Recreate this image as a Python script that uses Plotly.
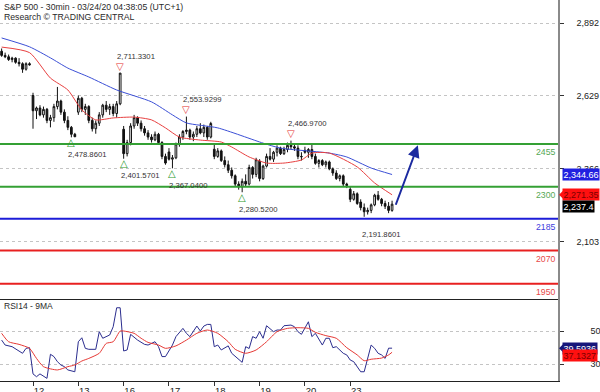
import plotly.graph_objects as go

# ---------------- data ----------------
day_labels = ["12", "13", "16", "17", "18", "19", "20", "23"]
day_start_index = [0, 13, 26, 39, 52, 65, 78, 91]

bar_index = list(range(-9, 104))
opens = [2790, 2775, 2770, 2760, 2765, 2750, 2745, 2725, 2745,
         2630, 2575, 2585, 2560, 2580, 2540, 2550, 2590, 2610, 2570, 2540, 2515, 2490,
         2570, 2620, 2580, 2590, 2540, 2510, 2530, 2560, 2595, 2580, 2590, 2565, 2600,
         2508, 2420, 2460, 2520, 2550, 2530, 2510, 2495, 2480, 2470, 2490, 2460, 2410,
         2426, 2400, 2405, 2455, 2480, 2500, 2505, 2480, 2490, 2510, 2495, 2515, 2480,
         2436, 2410, 2430, 2395, 2380, 2360, 2340, 2310, 2300, 2320, 2310, 2370, 2345,
         2393, 2330, 2375, 2410, 2400, 2425, 2440, 2420, 2435, 2450, 2445, 2440, 2410,
         2432, 2425, 2435, 2410, 2385, 2395, 2380, 2390, 2365, 2350, 2330, 2340, 2310,
         2291, 2255, 2275, 2245, 2225, 2210, 2215, 2235, 2270, 2255, 2240, 2230, 2215]
highs = [2800, 2785, 2778, 2770, 2768, 2765, 2750, 2750, 2750,
         2640, 2590, 2595, 2590, 2585, 2560, 2600, 2661, 2615, 2580, 2555, 2520, 2495,
         2630, 2625, 2600, 2595, 2550, 2540, 2570, 2600, 2610, 2600, 2600, 2610, 2711.33,
         2520, 2470, 2530, 2560, 2555, 2540, 2520, 2505, 2490, 2500, 2495, 2465, 2420,
         2440, 2415, 2460, 2490, 2505, 2553.93, 2510, 2500, 2520, 2530, 2525, 2520, 2535,
         2453, 2440, 2435, 2410, 2395, 2370, 2345, 2320, 2330, 2345, 2380, 2375, 2405,
         2400, 2380, 2420, 2440, 2430, 2450, 2445, 2445, 2460, 2466.97, 2455, 2450, 2425,
         2445, 2440, 2453, 2420, 2400, 2400, 2395, 2395, 2370, 2360, 2345, 2345, 2315,
         2301, 2285, 2280, 2255, 2240, 2225, 2240, 2275, 2285, 2260, 2250, 2245, 2250]
lows = [2770, 2765, 2755, 2750, 2745, 2735, 2712, 2720, 2738,
        2510, 2545, 2555, 2550, 2530, 2515, 2535, 2580, 2560, 2530, 2505, 2478.86, 2480,
        2560, 2570, 2560, 2530, 2500, 2492, 2520, 2550, 2570, 2560, 2555, 2550, 2595,
        2401.57, 2410, 2450, 2510, 2520, 2500, 2485, 2470, 2460, 2465, 2455, 2400, 2380,
        2395, 2367.04, 2400, 2445, 2470, 2490, 2470, 2465, 2480, 2490, 2480, 2470, 2475,
        2400, 2405, 2390, 2370, 2350, 2330, 2300, 2290, 2280.52, 2300, 2305, 2330, 2335,
        2320, 2325, 2370, 2395, 2390, 2410, 2415, 2415, 2425, 2435, 2430, 2400, 2395,
        2420, 2405, 2400, 2380, 2370, 2375, 2370, 2360, 2340, 2325, 2320, 2300, 2295.56,
        2245, 2250, 2235, 2215, 2191.86, 2200, 2205, 2230, 2250, 2230, 2220, 2205, 2210]
closes = [2775, 2770, 2760, 2765, 2750, 2745, 2725, 2745, 2741,
          2575, 2585, 2560, 2580, 2540, 2550, 2590, 2610, 2570, 2540, 2515, 2490, 2481,
          2620, 2580, 2590, 2540, 2510, 2530, 2560, 2595, 2580, 2590, 2565, 2600, 2711,
          2420, 2460, 2520, 2550, 2530, 2510, 2495, 2480, 2470, 2490, 2460, 2410, 2386,
          2400, 2405, 2455, 2480, 2500, 2505, 2480, 2490, 2510, 2495, 2515, 2480, 2529,
          2410, 2430, 2395, 2380, 2360, 2340, 2310, 2300, 2320, 2310, 2370, 2345, 2398,
          2330, 2375, 2410, 2400, 2425, 2440, 2420, 2435, 2450, 2445, 2440, 2410, 2409,
          2425, 2435, 2410, 2385, 2395, 2380, 2390, 2365, 2350, 2330, 2340, 2310, 2305,
          2255, 2275, 2240, 2225, 2210, 2215, 2235, 2270, 2255, 2240, 2230, 2215, 2237.4]

# moving averages on price (read at sample bars)
red_ma_idx = [-9, -1, 5, 10, 14, 18, 23, 29, 34, 38, 42, 48, 54, 57, 62, 67, 72, 77, 80, 85, 93, 98, 103]
red_ma_val = [2805, 2785, 2693, 2650, 2578, 2542, 2549, 2552, 2542, 2513, 2480, 2469, 2462, 2444,
              2408, 2386, 2386, 2397, 2422, 2422, 2372, 2314, 2271.35]
blue_ma_idx = [-9, -1, 5, 10, 16, 24, 34, 40, 44, 53, 66, 71, 85, 90, 97, 103]
blue_ma_val = [2838, 2806, 2766, 2729, 2697, 2650, 2607, 2560, 2531, 2513, 2458, 2440, 2422, 2408,
               2368, 2344.66]

# RSI14 and its 9MA
rsi_idx = [-9, -8, -6, -4, -3, -2, -1, 0, 1, 2, 4, 5, 6, 7, 8, 9, 10, 12, 13, 14, 15, 16, 18, 19,
           20, 22, 23, 24, 25, 26, 27, 28, 30, 32, 33, 35, 36, 37, 38, 40, 41, 43, 44, 45, 47,
           48, 49, 50, 51, 52, 53, 54, 56, 57, 58, 60, 61, 62, 63, 64, 65, 66, 67, 69, 70, 71,
           72, 74, 75, 76, 77, 78, 79, 80, 81, 83, 84, 85, 86, 87, 89, 90, 91, 92, 93, 94, 95,
           96, 97, 98, 99, 100, 101, 102, 103]
rsi_val = [44.5, 41.5, 40.5, 37.5, 36.5, 39.5, 39.9, 24.0, 22.3, 24.0, 21.3, 35.9, 34.5, 31.4,
           29.4, 28.4, 26.4, 25.3, 43.5, 45.9, 39.5, 38.9, 38.9, 49.6, 45.6, 47.6, 52.6, 64.1,
           64.1, 37.9, 38.5, 48.0, 44.5, 41.9, 41.5, 43.5, 40.5, 34.5, 34.5, 41.5, 46.6, 51.6,
           48.6, 46.6, 53.0, 50.0, 53.0, 54.0, 54.0, 40.5, 41.5, 38.5, 41.0, 36.5, 34.5, 31.0,
           40.5, 39.4, 46.6, 45.6, 49.6, 45.6, 53.2, 49.6, 50.6, 50.6, 53.2, 53.6, 52.6, 49.6,
           48.0, 52.0, 55.6, 46.6, 48.6, 41.5, 45.6, 45.6, 39.9, 40.5, 36.5, 35.5, 32.4, 31.4,
           28.4, 25.3, 25.3, 33.4, 41.5, 39.5, 36.5, 35.5, 33.4, 39.6, 39.5936]
rsi_ma_idx = [-9, -7, -4, -1, 1, 3, 7, 10, 12, 14, 16, 19, 21, 23, 25, 26, 29, 31, 33, 36, 38,
              41, 44, 47, 50, 53, 56, 58, 61, 64, 67, 70, 73, 76, 79, 81, 84, 87, 90, 93, 95,
              97, 100, 102, 103]
rsi_ma_val = [48.6, 43.5, 41.9, 39.5, 33.4, 28.4, 26.4, 28.4, 29.4, 31.8, 33.4, 36.5, 42.5,
              43.5, 50.0, 50.0, 48.6, 45.6, 43.1, 41.5, 39.5, 41.0, 44.5, 48.6, 50.6, 48.6,
              43.5, 38.9, 36.5, 38.5, 43.5, 49.6, 51.6, 52.0, 51.6, 49.2, 47.2, 45.6, 39.9,
              35.5, 32.0, 32.9, 33.6, 35.5, 37.1327]

# pivots
pivot_high_idx = [25, 44, 74]
pivot_high_val = [2711.3301, 2553.9299, 2466.9700]
pivot_low_idx = [11, 26, 40, 60]
pivot_low_val = [2478.8601, 2401.5701, 2367.0400, 2280.5200]
last_low_idx = 95
last_low_val = 2191.8601

# support / resistance levels
levels = [2455, 2300, 2185, 2070, 1950]
level_colors = ["#34a034", "#34a034", "#1c1cd8", "#e82020", "#e82020"]
level_text_colors = ["#55a855", "#55a855", "#4040dd", "#e84848", "#e84848"]

# ---------------- figure ----------------
FONT = "Liberation Sans, Arial, sans-serif"
MAIN_BOTTOM = 0.2165

fig = go.Figure()

fig.add_trace(go.Candlestick(
    x=bar_index, open=opens, high=highs, low=lows, close=closes,
    increasing=dict(line=dict(color="#111111", width=1), fillcolor="#ffffff"),
    decreasing=dict(line=dict(color="#111111", width=1), fillcolor="#111111"),
    whiskerwidth=0, xaxis="x", yaxis="y", hoverinfo="skip"))
fig.add_trace(go.Scatter(x=blue_ma_idx, y=blue_ma_val, mode="lines",
                         line=dict(color="#3b4fd6", width=1, shape="spline", smoothing=0.6),
                         xaxis="x", yaxis="y", hoverinfo="skip"))
fig.add_trace(go.Scatter(x=red_ma_idx, y=red_ma_val, mode="lines",
                         line=dict(color="#e84040", width=1, shape="spline", smoothing=0.6),
                         xaxis="x", yaxis="y", hoverinfo="skip"))
fig.add_trace(go.Scatter(x=rsi_idx, y=rsi_val, mode="lines",
                         line=dict(color="#2b2d8e", width=1),
                         xaxis="x2", yaxis="y2", hoverinfo="skip"))
fig.add_trace(go.Scatter(x=rsi_ma_idx, y=rsi_ma_val, mode="lines",
                         line=dict(color="#e53935", width=1, shape="spline", smoothing=0.6),
                         xaxis="x2", yaxis="y2", hoverinfo="skip"))

xr = [-9.47, 150.6]
shapes = []
annotations = []

for lv, c, tc in zip(levels, level_colors, level_text_colors):
    shapes.append(dict(type="line", xref="paper", x0=0, x1=1, yref="y", y0=lv, y1=lv,
                       line=dict(color=c, width=2), layer="above"))
    annotations.append(dict(xref="paper", x=1, xanchor="right", xshift=-1, yref="y", y=lv,
                            yanchor="top", yshift=-1, text=str(lv), showarrow=False,
                            font=dict(family=FONT, size=8.7, color=tc)))

tri_font = dict(family="DejaVu Sans", size=10)
lab_font = dict(family=FONT, size=7.7, color="#333333")
for i, v in zip(pivot_high_idx, pivot_high_val):
    annotations.append(dict(x=i, y=v, xref="x", yref="y", text="▽", showarrow=False,
                            yanchor="middle", yshift=7, font=dict(**tri_font, color="#e53030")))
    annotations.append(dict(x=i, y=v, xref="x", yref="y", text=f"{v:,.4f}", showarrow=False,
                            xanchor="left", xshift=-5, yanchor="middle", yshift=17, font=lab_font))
for i, v in zip(pivot_low_idx, pivot_low_val):
    annotations.append(dict(x=i, y=v, xref="x", yref="y", text="△", showarrow=False,
                            yanchor="middle", yshift=-5, font=dict(**tri_font, color="#2e9a2e")))
    annotations.append(dict(x=i, y=v, xref="x", yref="y", text=f"{v:,.4f}", showarrow=False,
                            xanchor="left", xshift=-5, yanchor="middle", yshift=-17, font=lab_font))
annotations.append(dict(x=last_low_idx, y=last_low_val, xref="x", yref="y",
                        text=f"{last_low_val:,.4f}", showarrow=False, xanchor="left", xshift=-4,
                        yanchor="middle", yshift=-18, font=lab_font))

# forecast arrow
annotations.append(dict(x=110.4, y=2450, xref="x", yref="y", ax=103.9, ay=2230, axref="x",
                        ayref="y", text="", showarrow=True, arrowhead=2, arrowsize=1.2,
                        arrowwidth=2, arrowcolor="#1b2aa0"))

# titles
annotations.append(dict(xref="paper", yref="paper", x=0, y=1, xanchor="left", yanchor="middle",
                        xshift=2, yshift=-6.5, showarrow=False,
                        text="S&P 500 - 30min - 03/24/20 04:38:05 (UTC+1)",
                        font=dict(family=FONT, size=8.7, color="#2a2a2a")))
annotations.append(dict(xref="paper", yref="paper", x=0, y=1, xanchor="left", yanchor="middle",
                        xshift=2, yshift=-16.7, showarrow=False,
                        text="Research © TRADING CENTRAL",
                        font=dict(family=FONT, size=8.7, color="#2a2a2a")))
annotations.append(dict(xref="paper", yref="paper", x=0, y=MAIN_BOTTOM, xanchor="left",
                        yanchor="middle", xshift=2, yshift=-7, showarrow=False,
                        text="RSI14 - 9MA", font=dict(family=FONT, size=8.5, color="#2a2a2a")))

# last-value boxes on the right
def box(y, yref, text, bg, fg, yshift=0):
    annotations.append(dict(xref="paper", x=1, xanchor="left", xshift=4, yref=yref, y=y,
                            yanchor="middle", yshift=yshift, text=text, showarrow=False,
                            bgcolor=bg, borderpad=0.5,
                            font=dict(family=FONT, size=9, color=fg)))

def pointer(y, yref, color, yshift=0):
    shapes.append(dict(type="path", xref="paper", xsizemode="pixel", xanchor=1,
                       yref=yref, ysizemode="pixel", yanchor=y,
                       path=f"M 1 {yshift} L 6 {yshift + 5} L 6 {yshift - 5} Z",
                       fillcolor=color, line=dict(width=0), layer="above"))

box(blue_ma_val[-1], "y", f"{blue_ma_val[-1]:,.2f}", "#2020e0", "#ffffff")
box(red_ma_val[-1], "y", f"{red_ma_val[-1]:,.2f}", "#ff1010", "#7a0000")
pointer(red_ma_val[-1], "y", "#ff1010")
box(closes[-1], "y", f"{closes[-1]:,.1f}", "#000000", "#ffffff", yshift=-2.5)
box(rsi_val[-1], "y2", f"{rsi_val[-1]:.4f}", "#16167a", "#ffffff")
pointer(rsi_val[-1], "y2", "#16167a")
box(rsi_ma_val[-1], "y2", f"{rsi_ma_val[-1]:.4f}", "#ff1010", "#7a0000", yshift=-3)

fig.update_layout(
    template="none",
    width=600, height=392, margin=dict(l=0, r=42, t=0, b=11, pad=0),
    paper_bgcolor="#ffffff", plot_bgcolor="#ffffff", showlegend=False,
    hovermode=False, font=dict(family=FONT, size=9, color="#333333"),
    shapes=shapes, annotations=annotations,
    xaxis=dict(domain=[0, 1], range=xr, anchor="y", showticklabels=False, ticks="",
               showgrid=False, zeroline=False, showline=True, linecolor="#222222",
               linewidth=1, automargin=False, rangeslider=dict(visible=False)),
    xaxis2=dict(domain=[0, 1], range=xr, anchor="y2", matches="x", showgrid=False,
                zeroline=False, showline=True, linecolor="#222222", linewidth=1,
                automargin=False,
                tickmode="array", tickvals=day_start_index, ticktext=day_labels,
                ticks="outside", ticklen=4, tickcolor="#333333", ticklabelshift=6,
                ticklabelstandoff=-3, tickfont=dict(family=FONT, size=9.5, color="#222222")),
    yaxis=dict(domain=[MAIN_BOTTOM, 1], range=[1896.6, 2975.1], anchor="x", side="right",
               tick0=2103, dtick=263, tickformat=",d", showgrid=True, griddash="dot",
               gridcolor="#c4c4c4", gridwidth=1, zeroline=False, showline=True,
               linecolor="#8a8a8a", linewidth=1.5, ticks="outside", ticklen=4,
               tickcolor="#333333", ticklabelstandoff=11, automargin=False,
               tickfont=dict(family=FONT, size=9, color="#222222")),
    yaxis2=dict(domain=[0, MAIN_BOTTOM], range=[19.7, 69.7], anchor="x2", side="right",
                tickmode="array", tickvals=[30, 50], showgrid=True, griddash="dot",
                gridcolor="#c4c4c4", gridwidth=1, zeroline=False, showline=True,
                linecolor="#8a8a8a", linewidth=1.5, ticks="outside", ticklen=4,
                tickcolor="#333333", ticklabelstandoff=25, automargin=False,
                tickfont=dict(family=FONT, size=9, color="#222222")),
)

fig.write_html("out.html", config={"displayModeBar": False},
               post_script="document.body.style.margin='0';document.body.style.overflow='hidden';")
